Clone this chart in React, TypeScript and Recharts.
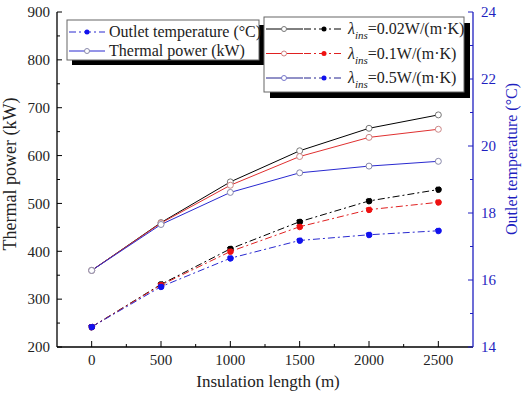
import React from "react";
import { LineChart, Line, XAxis, YAxis } from "recharts";

const lengths = [0, 500, 1000, 1500, 2000, 2500];
const powerA = [360, 460, 545, 610, 657, 685];
const powerB = [360, 459, 538, 598, 638, 655];
const powerC = [360, 456, 523, 564, 578, 588];
const tempA = [14.6, 15.87, 16.93, 17.74, 18.36, 18.7];
const tempB = [14.6, 15.85, 16.85, 17.59, 18.1, 18.32];
const tempC = [14.6, 15.8, 16.65, 17.18, 17.35, 17.47];

const xTicks = [0, 250, 500, 750, 1000, 1250, 1500, 1750, 2000, 2250, 2500];
const leftTicks = [200, 250, 300, 350, 400, 450, 500, 550, 600, 650, 700, 750, 800, 850, 900];
const rightTicks = [14, 15, 16, 17, 18, 19, 20, 21, 22, 23, 24];

const legendItems = [
  { label: "0.02W/(m·K)", line: "#000000", dot: "#000000", circle: "#777777" },
  { label: "0.1W/(m·K)", line: "#e02020", dot: "#ee1111", circle: "#d08080" },
  { label: "0.5W/(m·K)", line: "#22228f", dot: "#1111ee", circle: "#7777cc" },
];

const data = lengths.map((x, i) => ({
  x,
  pA: powerA[i],
  pB: powerB[i],
  pC: powerC[i],
  tA: tempA[i],
  tB: tempB[i],
  tC: tempC[i],
}));

const FONT = "'Liberation Serif', 'Times New Roman', serif";
const BLUE = "#1f1fc0";
const DASH = "7 3 2 3";

const LeftTick = (props: any) => {
  const { x, y, payload } = props;
  const v = payload.value;
  const major = v % 100 === 0;
  return (
    <g>
      <line x1={x} x2={x + (major ? 5 : 3)} y1={y} y2={y} stroke="#000" strokeWidth={1} />
      {major && (
        <text x={x - 7} y={y} dy="0.35em" textAnchor="end" fontSize={15} fontFamily={FONT} fill="#222">
          {v}
        </text>
      )}
    </g>
  );
};

const RightTick = (props: any) => {
  const { x, y, payload } = props;
  const v = payload.value;
  const major = v % 2 === 0;
  return (
    <g>
      <line x1={x} x2={x - (major ? 5 : 3)} y1={y} y2={y} stroke={BLUE} strokeWidth={1} />
      {major && (
        <text x={x + 8} y={y} dy="0.35em" textAnchor="start" fontSize={15} fontFamily={FONT} fill={BLUE}>
          {v}
        </text>
      )}
    </g>
  );
};

const BottomTick = (props: any) => {
  const { x, y, payload } = props;
  const v = payload.value;
  const major = v % 500 === 0;
  return (
    <g>
      <line x1={x} x2={x} y1={y} y2={y - (major ? 6 : 3)} stroke="#000" strokeWidth={1} />
      {major && (
        <text x={x} y={y + 18} textAnchor="middle" fontSize={15} fontFamily={FONT} fill="#222">
          {v}
        </text>
      )}
    </g>
  );
};

const NoTick = () => <g />;

export default function App() {
  const openDot = (stroke: string) => ({ r: 3, fill: "#fff", stroke, strokeWidth: 1 });
  const fillDot = (c: string) => ({ r: 3, fill: c, stroke: c, strokeWidth: 1 });
  return (
    <div style={{ position: "absolute", left: 0, top: 0, width: 526, height: 399, background: "#fff" }}>
      <LineChart width={526} height={399} data={data} margin={{ top: 12, right: 0, bottom: 0, left: 0 }}>
        <XAxis
          xAxisId="b"
          dataKey="x"
          type="number"
          domain={[-250, 2750]}
          ticks={xTicks}
          interval={0}
          height={52}
          tickSize={0}
          tickMargin={0}
          tickLine={false}
          tick={<BottomTick />}
          axisLine={{ stroke: "#000", strokeWidth: 1.3 }}
        />
        <XAxis
          xAxisId="t"
          dataKey="x"
          type="number"
          orientation="top"
          domain={[-250, 2750]}
          height={0}
          tick={<NoTick />}
          tickLine={false}
          axisLine={{ stroke: "#333", strokeWidth: 1.5 }}
        />
        <YAxis
          yAxisId="left"
          domain={[200, 900]}
          ticks={leftTicks}
          interval={0}
          width={57}
          tickSize={0}
          tickMargin={0}
          tickLine={false}
          tick={<LeftTick />}
          axisLine={{ stroke: "#000", strokeWidth: 1.3 }}
        />
        <YAxis
          yAxisId="right"
          orientation="right"
          domain={[14, 24]}
          ticks={rightTicks}
          interval={0}
          width={53}
          tickSize={0}
          tickMargin={0}
          tickLine={false}
          tick={<RightTick />}
          axisLine={{ stroke: BLUE, strokeWidth: 1.3 }}
        />
        <Line xAxisId="b" yAxisId="left" dataKey="pA" stroke="#000" strokeWidth={1} dot={openDot("#777")} isAnimationActive={false} />
        <Line xAxisId="b" yAxisId="left" dataKey="pB" stroke="#e03030" strokeWidth={1} dot={openDot("#c88")} isAnimationActive={false} />
        <Line xAxisId="b" yAxisId="left" dataKey="pC" stroke="#2a2ad0" strokeWidth={1} dot={openDot("#88a")} isAnimationActive={false} />
        <Line xAxisId="b" yAxisId="right" dataKey="tA" stroke="#000" strokeWidth={1} strokeDasharray={DASH} dot={fillDot("#000")} isAnimationActive={false} />
        <Line xAxisId="b" yAxisId="right" dataKey="tB" stroke="#e02020" strokeWidth={1} strokeDasharray={DASH} dot={fillDot("#ee1111")} isAnimationActive={false} />
        <Line xAxisId="b" yAxisId="right" dataKey="tC" stroke="#2a2ad0" strokeWidth={1} strokeDasharray={DASH} dot={fillDot("#1111ee")} isAnimationActive={false} />
      </LineChart>
      <svg width={526} height={399} style={{ position: "absolute", left: 0, top: 0, pointerEvents: "none" }} fontFamily={FONT}>
        {/* axis titles */}
        <text x={0} y={0} transform="translate(16,174) rotate(-90)" textAnchor="middle" fontSize={18} fill="#222">
          Thermal power (kW)
        </text>
        <text x={0} y={0} transform="translate(517,159) rotate(-90)" textAnchor="middle" fontSize={16} fill={BLUE}>
          Outlet temperature (°C)
        </text>
        <text x={268} y={387} textAnchor="middle" fontSize={17} fill="#222">
          Insulation length (m)
        </text>

        {/* legend 1 */}
        <rect x={72} y={25} width={192} height={40} fill="#000" />
        <rect x={67} y={20} width={192} height={40} fill="#fff" stroke="#666" strokeWidth={1} />
        <line x1={69} x2={105} y1={32} y2={32} stroke="#2a2ad0" strokeWidth={1} strokeDasharray={DASH} />
        <circle cx={87} cy={32} r={2.5} fill="#1111ee" />
        <text x={109} y={37} fontSize={16} fill="#222">Outlet temperature (°C)</text>
        <line x1={69} x2={105} y1={51} y2={51} stroke="#2a2ad0" strokeWidth={1} />
        <circle cx={87} cy={51} r={2.5} fill="#fff" stroke="#88a" />
        <text x={109} y={56} fontSize={16} fill="#222">Thermal power (kW)</text>

        {/* legend 2 */}
        <rect x={270} y={23} width={200} height={75} fill="#000" />
        <rect x={264} y={17} width={200} height={75} fill="#fff" stroke="#666" strokeWidth={1} />
        {legendItems.map((it, i) => {
          const cy = 29 + i * 24.5;
          return (
            <g key={i}>
              <line x1={266} x2={303} y1={cy} y2={cy} stroke={it.line} strokeWidth={1} />
              <circle cx={284} cy={cy} r={2.5} fill="#fff" stroke={it.circle} />
              <line x1={304} x2={342} y1={cy} y2={cy} stroke={it.line} strokeWidth={1} strokeDasharray={DASH} />
              <circle cx={324} cy={cy} r={2.5} fill={it.dot} />
              <text x={348} y={cy + 5} fontSize={16} fill="#222">
                <tspan fontStyle="italic">λ</tspan>
                <tspan fontStyle="italic" fontSize={11} dy={5}>ins</tspan>
                <tspan dy={-5}>={it.label}</tspan>
              </text>
            </g>
          );
        })}
      </svg>
    </div>
  );
}
